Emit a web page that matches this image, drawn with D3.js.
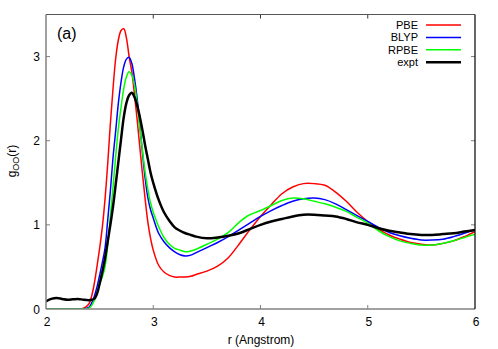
<!DOCTYPE html>
<html>
<head>
<meta charset="utf-8">
<script src="https://cdn.jsdelivr.net/npm/d3@7"></script>
<style>
  body { margin: 0; background: #fff; }
  text { font-family: "Liberation Sans", Arial, sans-serif; }
</style>
</head>
<body>
<div id="chart"></div>
<script>
const xTicks = [2, 3, 4, 5, 6];
const yTicks = [0, 1, 2, 3];

// r grid (Angstrom), shared by every series
const r = [2.0, 2.05, 2.1, 2.15, 2.2, 2.25, 2.3, 2.35, 2.4, 2.425, 2.45, 2.475,
    2.5, 2.525, 2.55, 2.575, 2.6, 2.625, 2.65, 2.675, 2.7, 2.725, 2.75, 2.775,
    2.8, 2.825, 2.85, 2.875, 2.9, 2.925, 2.95, 2.975, 3.0, 3.05, 3.1, 3.15, 3.2,
    3.25, 3.3, 3.35, 3.4, 3.5, 3.6, 3.7, 3.8, 3.9, 4.0, 4.1, 4.2, 4.3, 4.4, 4.5,
    4.6, 4.7, 4.8, 4.9, 5.0, 5.1, 5.2, 5.3, 5.4, 5.5, 5.6, 5.7, 5.8, 5.9, 6.0];

const pbe = [0, 0, 0, 0, 0, 0, 0, 0.01, 0.06, 0.15, 0.3, 0.5,
    0.72, 0.97, 1.3, 1.72, 2.2, 2.62, 2.98, 3.2, 3.31, 3.33, 3.22, 3.0,
    2.82, 2.55, 2.25, 1.92, 1.6, 1.3, 1.03, 0.84, 0.7, 0.52, 0.44, 0.4, 0.38,
    0.38, 0.38, 0.39, 0.41, 0.45, 0.51, 0.61, 0.77, 0.94, 1.1, 1.24, 1.37, 1.45, 1.49, 1.49,
    1.47, 1.39, 1.28, 1.15, 1.04, 0.95, 0.88, 0.83, 0.79, 0.77, 0.76, 0.78, 0.81, 0.86, 0.92];

const blyp = [0, 0, 0, 0, 0, 0, 0, 0, 0.02, 0.07, 0.15, 0.26,
    0.4, 0.55, 0.72, 1.05, 1.4, 1.8, 2.12, 2.45, 2.7, 2.88, 2.97, 2.99,
    2.92, 2.74, 2.5, 2.18, 1.85, 1.55, 1.32, 1.18, 1.08, 0.9, 0.8, 0.73, 0.68,
    0.645, 0.63, 0.64, 0.67, 0.73, 0.79, 0.86, 0.94, 1.02, 1.1, 1.17, 1.23, 1.28, 1.31, 1.32,
    1.3, 1.25, 1.18, 1.11, 1.04, 0.97, 0.91, 0.87, 0.84, 0.82, 0.82, 0.83, 0.86, 0.9, 0.94];

const rpbe = [0, 0, 0, 0, 0, 0, 0, 0, 0.01, 0.04, 0.1, 0.18,
    0.3, 0.38, 0.5, 0.75, 1.1, 1.45, 1.82, 2.15, 2.4, 2.62, 2.76, 2.82,
    2.78, 2.66, 2.45, 2.15, 1.88, 1.62, 1.42, 1.26, 1.15, 0.98, 0.85, 0.77, 0.72,
    0.7, 0.68, 0.69, 0.71, 0.77, 0.83, 0.91, 1.03, 1.12, 1.17, 1.23, 1.29, 1.32, 1.31, 1.28,
    1.25, 1.21, 1.16, 1.09, 1.02, 0.93, 0.86, 0.81, 0.78, 0.76, 0.76, 0.78, 0.81, 0.85, 0.89];

const expt = [0.09, 0.12, 0.13, 0.12, 0.11, 0.115, 0.12, 0.11, 0.105, 0.11, 0.12, 0.18,
    0.3, 0.44, 0.6, 0.8, 1.0, 1.22, 1.48, 1.75, 2.02, 2.28, 2.45, 2.54,
    2.57, 2.52, 2.42, 2.28, 2.12, 1.94, 1.78, 1.62, 1.5, 1.3, 1.15, 1.05, 0.97,
    0.93, 0.9, 0.88, 0.86, 0.84, 0.85, 0.87, 0.9, 0.95, 1.0, 1.04, 1.07, 1.1, 1.12, 1.12,
    1.11, 1.1, 1.07, 1.03, 1.0, 0.96, 0.93, 0.91, 0.89, 0.88, 0.88, 0.89, 0.9, 0.92, 0.94];

const seriesNames = ["PBE", "BLYP", "RPBE", "expt"];
const seriesColors = ["#ff0000", "#0000ff", "#00ff00", "#000000"];
const seriesWidths = [1.5, 1.5, 1.5, 2.5];
const seriesValues = [pbe, blyp, rpbe, expt];

const W = 498, H = 349;
const m = {left: 46, right: 23, top: 14.5, bottom: 40};

const svg = d3.select("#chart").append("svg")
    .attr("width", W).attr("height", H);

const x = d3.scaleLinear().domain([2, 6]).range([m.left, W - m.right]);
const y = d3.scaleLinear().domain([0, 3.5]).range([H - m.bottom, m.top]);

const tickCol = "#808080";

// inward ticks on all four sides
const g = svg.append("g");
xTicks.slice(1, -1).forEach(t => {
    g.append("line").attr("x1", x(t)).attr("x2", x(t))
        .attr("y1", y(0)).attr("y2", y(0) - 4).attr("stroke", tickCol);
    g.append("line").attr("x1", x(t)).attr("x2", x(t))
        .attr("y1", y(3.5)).attr("y2", y(3.5) + 4).attr("stroke", "#333");
});
yTicks.slice(1).forEach(t => {
    g.append("line").attr("x1", x(2)).attr("x2", x(2) + 4)
        .attr("y1", y(t)).attr("y2", y(t)).attr("stroke", tickCol);
    g.append("line").attr("x1", x(6)).attr("x2", x(6) - 4)
        .attr("y1", y(t)).attr("y2", y(t)).attr("stroke", tickCol);
});

// tick labels
svg.append("g").selectAll("text").data(xTicks).join("text")
    .attr("x", d => x(d) + 1).attr("y", y(0) + 17)
    .attr("text-anchor", "middle").attr("font-size", 12).text(d => d);
svg.append("g").selectAll("text").data(yTicks).join("text")
    .attr("x", x(2) - 6).attr("y", d => y(d) + 4.5)
    .attr("text-anchor", "end").attr("font-size", 12).text(d => d);

svg.append("text").attr("x", 261).attr("y", 344)
    .attr("text-anchor", "middle").attr("font-size", 12).text("r (Angstrom)");

const yl = svg.append("text")
    .attr("transform", "translate(16,161) rotate(-90)")
    .attr("text-anchor", "middle").attr("font-size", 12);
yl.append("tspan").text("g");
yl.append("tspan").attr("font-size", 9).attr("dy", 3).text("OO");
yl.append("tspan").attr("dy", -3).text("(r)");

// curves
const clip = svg.append("clipPath").attr("id", "clip").append("rect")
    .attr("x", x(2)).attr("y", y(3.5)).attr("width", x(6) - x(2)).attr("height", y(0) - y(3.5));

const line = d3.line()
    .x((d, i) => x(r[i]))
    .y(d => y(d))
    .curve(d3.curveCatmullRom.alpha(0.5));

seriesValues.forEach((vals, k) => {
    svg.append("path").datum(vals)
        .attr("clip-path", "url(#clip)")
        .attr("fill", "none")
        .attr("stroke", seriesColors[k])
        .attr("stroke-width", seriesWidths[k])
        .attr("d", line);
});

// frame
svg.append("line").attr("x1", x(2)).attr("x2", x(6)).attr("y1", y(0)).attr("y2", y(0))
    .attr("stroke", tickCol).attr("stroke-width", 1.5);
svg.append("line").attr("x1", x(2)).attr("x2", x(2)).attr("y1", y(0)).attr("y2", y(3.5))
    .attr("stroke", tickCol).attr("stroke-width", 1.5);
svg.append("line").attr("x1", x(2)).attr("x2", x(6)).attr("y1", y(3.5)).attr("y2", y(3.5))
    .attr("stroke", "#555").attr("stroke-width", 1.2);
svg.append("line").attr("x1", x(6)).attr("x2", x(6)).attr("y1", y(0)).attr("y2", y(3.5))
    .attr("stroke", "#000").attr("stroke-width", 1.2);

// panel label
svg.append("text").attr("x", 57).attr("y", 39).attr("font-size", 16).text("(a)");

// legend
const leg = svg.append("g");
seriesNames.forEach((name, k) => {
    const ly = 25 + k * 12.4;
    leg.append("text").attr("x", 418).attr("y", ly + 4)
        .attr("text-anchor", "end").attr("font-size", 11).text(name);
    leg.append("line").attr("x1", 426).attr("x2", 461).attr("y1", ly).attr("y2", ly)
        .attr("stroke", seriesColors[k]).attr("stroke-width", seriesWidths[k]);
});
</script>
</body>
</html>
